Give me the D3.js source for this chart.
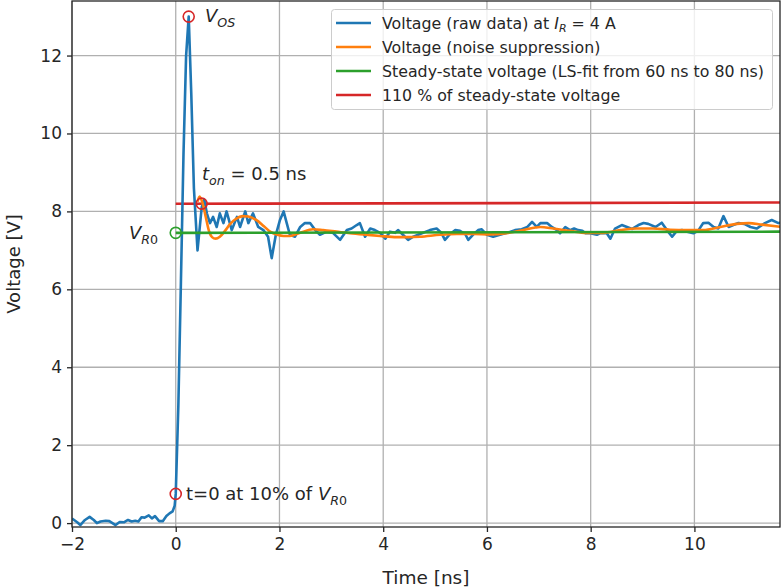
<!DOCTYPE html>
<html>
<head>
<meta charset="utf-8">
<script src="https://cdn.jsdelivr.net/npm/d3@7"></script>
<style>
  body { margin: 0; background: #fff; }
  text { font-family: "DejaVu Sans", sans-serif; fill: #262626; }
</style>
</head>
<body>
<svg id="chart"></svg>
<script>
var width = 781,
    height = 587;

// raw measurement (time in ns, voltage in V)
var rawT = [-2.00,-1.90,-1.84,-1.75,-1.66,-1.58,-1.52,-1.45,-1.35,-1.28,-1.22,-1.16,-1.08,-1.00,-0.92,-0.85,-0.78,-0.72,-0.66,-0.60,-0.52,-0.46,-0.40,-0.32,-0.25,-0.18,-0.12,-0.06,-0.02,
  0.00,0.05,0.10,0.15,0.20,0.25,0.30,0.35,0.42,0.50,0.55,0.60,0.66,0.72,0.79,0.85,0.92,0.98,1.08,1.18,1.24,1.34,1.40,1.49,1.59,1.69,1.78,1.85,1.93,
  2.01,2.08,2.14,2.20,2.30,2.40,2.49,2.59,2.69,2.78,2.91,3.03,3.17,3.30,3.39,3.49,3.55,3.65,3.75,3.84,3.94,
  4.04,4.13,4.23,4.29,4.38,4.48,4.58,4.71,4.90,5.03,5.12,5.19,5.29,5.39,5.48,5.58,5.64,5.73,5.83,5.90,
  6.00,6.12,6.25,6.39,6.54,6.67,6.78,6.87,6.96,7.03,7.16,7.25,7.35,7.41,7.51,7.60,7.68,7.76,7.84,7.90,
  7.99,8.12,8.20,8.31,8.38,8.47,8.60,8.70,8.80,8.92,9.02,9.11,9.25,9.37,9.47,9.57,9.66,9.76,9.86,9.98,
  10.07,10.17,10.27,10.37,10.46,10.56,10.66,10.75,10.85,10.96,11.08,11.20,11.36,11.49,11.62,11.70];
var rawV = [0.12,0.02,-0.05,0.08,0.16,0.08,0.00,0.04,0.06,0.05,0.00,-0.05,0.03,0.02,0.08,0.04,0.06,0.04,0.15,0.14,0.20,0.12,0.18,0.05,0.05,0.18,0.25,0.30,0.45,
  0.75,3.00,6.20,9.50,12.0,13.0,11.0,8.60,7.00,8.10,8.30,7.95,7.70,7.86,7.60,7.95,7.70,8.00,7.52,7.86,7.60,8.00,7.70,7.95,7.60,7.52,7.35,6.80,7.40,
  7.78,8.00,7.70,7.40,7.35,7.60,7.70,7.70,7.52,7.40,7.48,7.45,7.27,7.52,7.56,7.65,7.70,7.35,7.56,7.52,7.45,
  7.30,7.48,7.45,7.52,7.40,7.27,7.35,7.42,7.52,7.56,7.45,7.27,7.42,7.52,7.50,7.42,7.27,7.40,7.52,7.54,
  7.40,7.35,7.40,7.45,7.52,7.54,7.60,7.73,7.60,7.70,7.70,7.60,7.52,7.44,7.60,7.52,7.56,7.52,7.50,7.44,
  7.44,7.40,7.45,7.44,7.30,7.56,7.65,7.60,7.55,7.65,7.70,7.68,7.60,7.71,7.52,7.35,7.50,7.52,7.48,7.44,
  7.50,7.70,7.71,7.60,7.56,7.88,7.60,7.65,7.70,7.68,7.60,7.56,7.70,7.78,7.70,7.72];

// filtered signal
var smoothT = [0.42,0.46,0.52,0.58,0.64,0.70,0.77,0.85,0.95,1.05,1.15,1.30,1.40,1.55,1.70,1.82,1.96,2.08,2.20,2.40,2.65,2.84,3.10,3.36,3.68,3.94,4.26,4.46,4.71,
  5.10,5.42,5.74,6.06,6.38,6.70,7.03,7.28,7.60,7.92,8.24,8.57,8.89,9.20,9.53,9.85,10.17,10.50,10.82,11.05,11.30,11.70];
var smoothV = [8.25,8.38,8.20,7.85,7.50,7.34,7.30,7.35,7.50,7.68,7.80,7.88,7.87,7.78,7.62,7.48,7.40,7.37,7.37,7.45,7.54,7.52,7.48,7.44,7.40,7.37,7.34,7.34,7.35,
  7.40,7.42,7.42,7.41,7.44,7.52,7.60,7.56,7.50,7.45,7.45,7.52,7.56,7.56,7.53,7.52,7.52,7.60,7.68,7.70,7.66,7.60];

// steady-state fit and 110 % level, from t = 0 to end of window
var fitT = [0, 11.7];
var fitV = [7.45, 7.48];
var limitV = fitV.map(function(v) { return v * 1.1; });

var xTicks = [-2, 0, 2, 4, 6, 8, 10];
var yTicks = [0, 2, 4, 6, 8, 10, 12];

var legendLabels = ["raw", "Voltage (noise suppression)", "Steady-state voltage (LS-fit from 60 ns to 80 ns)", "110 % of steady-state voltage"];
var colors = ["#1f77b4", "#ff7f0e", "#2ca02c", "#d62728"];

var svg = d3.select("#chart")
    .attr("width", width)
    .attr("height", height);

var x = d3.scaleLinear().domain([-2, 11.65]).range([72, 780]);
var y = d3.scaleLinear().domain([-0.1, 13.4]).range([527, 1]);

// grid
var grid = svg.append("g");
grid.selectAll("line.gx").data(xTicks).enter().append("line")
    .attr("x1", function(d) { return x(d); }).attr("x2", function(d) { return x(d); })
    .attr("y1", y.range()[0]).attr("y2", y.range()[1])
    .style("stroke", "#b0b0b0").style("stroke-width", 1.3);
grid.selectAll("line.gy").data(yTicks).enter().append("line")
    .attr("y1", function(d) { return y(d); }).attr("y2", function(d) { return y(d); })
    .attr("x1", x.range()[0]).attr("x2", x.range()[1])
    .style("stroke", "#b0b0b0").style("stroke-width", 1.3);

svg.append("clipPath").attr("id", "clip").append("rect")
    .attr("x", x.range()[0]).attr("y", y.range()[1])
    .attr("width", x.range()[1] - x.range()[0]).attr("height", y.range()[0] - y.range()[1]);

var plot = svg.append("g").attr("clip-path", "url(#clip)");

var line = d3.line()
    .x(function(d) { return x(d[0]); })
    .y(function(d) { return y(d[1]); });

plot.append("path")
    .datum(d3.zip(fitT, limitV))
    .attr("d", line)
    .style("fill", "none").style("stroke", colors[3]).style("stroke-width", 2.6);

plot.append("path")
    .datum(d3.zip(rawT, rawV))
    .attr("d", line)
    .style("fill", "none").style("stroke", colors[0]).style("stroke-width", 2.6)
    .style("stroke-linejoin", "round");

plot.append("path")
    .datum(d3.zip(smoothT, smoothV))
    .attr("d", d3.line().x(function(d) { return x(d[0]); }).y(function(d) { return y(d[1]); }).curve(d3.curveMonotoneX))
    .style("fill", "none").style("stroke", colors[1]).style("stroke-width", 2.6);

plot.append("path")
    .datum(d3.zip(fitT, fitV))
    .attr("d", line)
    .style("fill", "none").style("stroke", colors[2]).style("stroke-width", 2.6);

// markers
var markers = [
  {t: 0.25, v: 13.0, c: colors[3]},
  {t: 0.5, v: 8.2, c: colors[3]},
  {t: 0, v: 7.45, c: colors[2]},
  {t: 0, v: 0.75, c: colors[3]}
];
svg.selectAll("circle.mk").data(markers).enter().append("circle")
    .attr("cx", function(d) { return x(d.t); })
    .attr("cy", function(d) { return y(d.v); })
    .attr("r", 5.5)
    .style("fill", "none")
    .style("stroke", function(d) { return d.c; })
    .style("stroke-width", 1.6);

// spines
svg.append("rect")
    .attr("x", x.range()[0]).attr("y", y.range()[1])
    .attr("width", x.range()[1] - x.range()[0]).attr("height", y.range()[0] - y.range()[1])
    .style("fill", "none").style("stroke", "#262626").style("stroke-width", 1.3);

// axes
var xAxis = svg.append("g")
    .attr("transform", "translate(0," + y.range()[0] + ")")
    .call(d3.axisBottom(x).tickValues(xTicks).tickSize(5).tickPadding(6)
      .tickFormat(function(d) { return d < 0 ? "\u2212" + Math.abs(d) : d; }));
var yAxis = svg.append("g")
    .attr("transform", "translate(" + x.range()[0] + ",0)")
    .call(d3.axisLeft(y).tickValues(yTicks).tickSize(5).tickPadding(5));
[xAxis, yAxis].forEach(function(a) {
  a.select(".domain").remove();
  a.selectAll("line").style("stroke", "#262626").style("stroke-width", 1.3);
  a.selectAll("text").style("font-size", "17px").style("fill", "#262626")
   .style("font-family", "DejaVu Sans, sans-serif");
});

svg.append("text").attr("x", (x.range()[0] + x.range()[1]) / 2).attr("y", 584)
    .attr("text-anchor", "middle").style("font-size", "18.5px").text("Time [ns]");
svg.append("text").attr("transform", "translate(20," + ((y.range()[0] + y.range()[1]) / 2) + ") rotate(-90)")
    .attr("text-anchor", "middle").style("font-size", "18px").text("Voltage [V]");

// annotation helper: parts = [text, italic, sub]
function mathText(px, py, parts, size) {
  var t = svg.append("text").attr("x", px).attr("y", py).style("font-size", size + "px");
  var down = false;
  parts.forEach(function(p) {
    var s = t.append("tspan").text(p[0]);
    if (p[1]) s.style("font-style", "italic");
    if (p[2]) {
      s.style("font-size", (size * 0.7) + "px");
      if (!down) { s.attr("dy", size * 0.25); down = true; }
    } else if (down) {
      s.attr("dy", -size * 0.25); down = false;
    }
  });
  return t;
}

mathText(205, 22, [["V", true], ["OS", true, true]], 18);
mathText(202, 180, [["t", true], ["on", true, true], [" = 0.5 ns", false]], 18);
mathText(129, 239, [["V", true], ["R", true, true], ["0", false, true]], 18);
mathText(186, 500, [["t=0 at 10% of ", false], ["V", true], ["R", true, true], ["0", false, true]], 18);

// legend
var lg = svg.append("g");
lg.append("rect").attr("x", 331.5).attr("y", 9.5).attr("width", 441).attr("height", 100)
    .attr("rx", 3)
    .style("fill", "#fff").style("fill-opacity", 0.8)
    .style("stroke", "#cccccc").style("stroke-width", 1);
var rowsY = [23, 47, 71, 95];
legendLabels.forEach(function(lab, i) {
  lg.append("line").attr("x1", 336).attr("x2", 371).attr("y1", rowsY[i]).attr("y2", rowsY[i])
      .style("stroke", colors[i]).style("stroke-width", 2.6);
  if (i === 0) {
    var t = lg.append("text").attr("x", 382).attr("y", rowsY[i] + 5.5).style("font-size", "15.8px");
    t.append("tspan").text("Voltage (raw data) at ");
    t.append("tspan").text("I").style("font-style", "italic");
    t.append("tspan").text("R").style("font-style", "italic").style("font-size", "11px").attr("dy", 3.5);
    t.append("tspan").text(" = 4 A").attr("dy", -3.5);
  } else {
    lg.append("text").attr("x", 382).attr("y", rowsY[i] + 5.5).style("font-size", "15.8px").text(lab);
  }
});
</script>
</body>
</html>
